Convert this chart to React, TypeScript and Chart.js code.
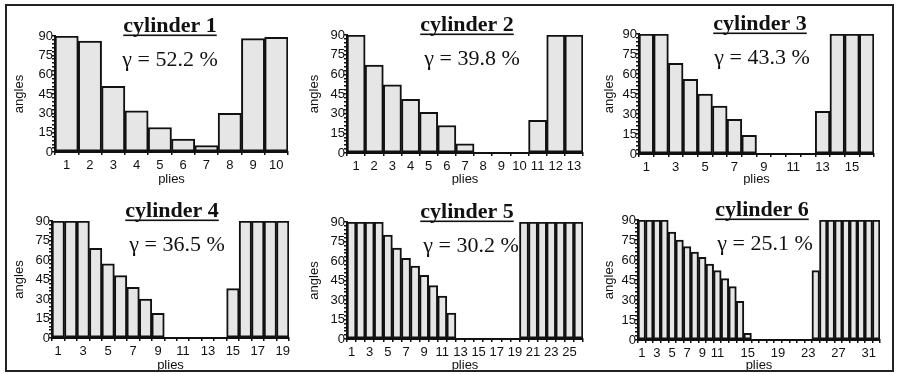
import React, { useEffect, useRef } from "react";
import { Chart, registerables } from "chart.js";

Chart.register(...registerables);

// ---------- data ----------
const cylinderTitles = ["cylinder 1", "cylinder 2", "cylinder 3", "cylinder 4", "cylinder 5", "cylinder 6"];
const gammaLabels = ["γ = 52.2 %", "γ = 39.8 %", "γ = 43.3 %", "γ = 36.5 %", "γ = 30.2 %", "γ = 25.1 %"];

const cyl1Plies = ["1", "2", "3", "4", "5", "6", "7", "8", "9", "10"];
const cyl1Angles = [90, 86, 51, 32, 19, 10, 5, 30, 88, 89];
const cyl1ShownTicks = ["1", "2", "3", "4", "5", "6", "7", "8", "9", "10"];

const cyl2Plies = ["1", "2", "3", "4", "5", "6", "7", "8", "9", "10", "11", "12", "13"];
const cyl2Angles = [90, 67, 52, 41, 31, 21, 7, 0, 0, 0, 25, 90, 90];
const cyl2ShownTicks = ["1", "2", "3", "4", "5", "6", "7", "8", "9", "10", "11", "12", "13"];

const cyl3Plies = ["1", "2", "3", "4", "5", "6", "7", "8", "9", "10", "11", "12", "13", "14", "15", "16"];
const cyl3Angles = [90, 90, 68, 56, 45, 36, 26, 14, 0, 0, 0, 0, 32, 90, 90, 90];
const cyl3ShownTicks = ["1", "3", "5", "7", "9", "11", "13", "15"];

const cyl4Plies = ["1", "2", "3", "4", "5", "6", "7", "8", "9", "10", "11", "12", "13", "14", "15", "16", "17", "18", "19"];
const cyl4Angles = [90, 90, 90, 69, 57, 48, 39, 30, 19, 0, 0, 0, 0, 0, 38, 90, 90, 90, 90];
const cyl4ShownTicks = ["1", "3", "5", "7", "9", "11", "13", "15", "17", "19"];

const cyl5Plies = ["1", "2", "3", "4", "5", "6", "7", "8", "9", "10", "11", "12", "13", "14", "15", "16", "17", "18", "19", "20", "21", "22", "23", "24", "25", "26"];
const cyl5Angles = [90, 90, 90, 90, 80, 70, 62, 56, 49, 41, 33, 20, 0, 0, 0, 0, 0, 0, 0, 90, 90, 90, 90, 90, 90, 90];
const cyl5ShownTicks = ["1", "3", "5", "7", "9", "11", "13", "15", "17", "19", "21", "23", "25"];

const cyl6Plies = ["1", "2", "3", "4", "5", "6", "7", "8", "9", "10", "11", "12", "13", "14", "15", "16", "17", "18", "19", "20", "21", "22", "23", "24", "25", "26", "27", "28", "29", "30", "31", "32"];
const cyl6Angles = [90, 90, 90, 90, 81, 75, 70, 66, 62, 57, 52, 46, 40, 29, 5, 0, 0, 0, 0, 0, 0, 0, 0, 52, 90, 90, 90, 90, 90, 90, 90, 90];
const cyl6ShownTicks = ["1", "3", "5", "7", "9", "11", "15", "19", "23", "27", "31"];

const yTickLabels = [0, 15, 30, 45, 60, 75, 90];
const yAxisTitle = "angles";
const xAxisTitle = "plies";

// ---------- layout (canvas box + plot box, in page px) ----------
const layouts = [
  { x: 0, y: 0, w: 295, h: 185, left: 55, right: 288, top: 36, bottom: 152, titleX: 170, gammaX: 170 },
  { x: 295, y: 0, w: 295, h: 185, left: 52, right: 288, top: 35, bottom: 153, titleX: 467, gammaX: 472 },
  { x: 590, y: 0, w: 304, h: 185, left: 49, right: 284, top: 34, bottom: 154, titleX: 760, gammaX: 762 },
  { x: 0, y: 185, w: 295, h: 189, left: 52, right: 289, top: 36, bottom: 153, titleX: 172, gammaX: 177 },
  { x: 295, y: 185, w: 295, h: 189, left: 52, right: 288, top: 37, bottom: 154, titleX: 467, gammaX: 471 },
  { x: 590, y: 185, w: 304, h: 189, left: 48, right: 290, top: 35, bottom: 155, titleX: 762, gammaX: 765 },
];

const panels = [
  { plies: cyl1Plies, angles: cyl1Angles, shown: cyl1ShownTicks },
  { plies: cyl2Plies, angles: cyl2Angles, shown: cyl2ShownTicks },
  { plies: cyl3Plies, angles: cyl3Angles, shown: cyl3ShownTicks },
  { plies: cyl4Plies, angles: cyl4Angles, shown: cyl4ShownTicks },
  { plies: cyl5Plies, angles: cyl5Angles, shown: cyl5ShownTicks },
  { plies: cyl6Plies, angles: cyl6Angles, shown: cyl6ShownTicks },
];

const INK = "#111111";
const BAR_FILL = "#e6e6e6";

const panelTextPlugin = {
  id: "panelText",
  afterDraw(chart: any, _args: any, opts: any) {
    const { ctx, chartArea } = chart;
    ctx.save();
    ctx.fillStyle = INK;
    ctx.textAlign = "center";
    ctx.textBaseline = "alphabetic";
    ctx.font = 'bold 22px "Liberation Serif"';
    const tx = opts.titleX;
    const ty = chartArea.top - 4;
    ctx.fillText(opts.title, tx, ty);
    const w = ctx.measureText(opts.title).width;
    ctx.fillRect(tx - w / 2, ty + 2.5, w, 1.6);
    ctx.font = '22px "Liberation Serif"';
    ctx.fillText(opts.gamma, opts.gammaX, chartArea.top + 30);
    ctx.restore();
  },
};

function Panel({ index }: { index: number }) {
  const ref = useRef<HTMLCanvasElement | null>(null);
  const lay = layouts[index];
  const p = panels[index];

  useEffect(() => {
    if (!ref.current) return;
    const yWidth = lay.left;
    const xHeight = lay.h - lay.bottom;
    const tickFont = { family: '"Liberation Sans"', size: 13 };
    const chart = new Chart(ref.current, {
      type: "bar",
      data: {
        labels: p.plies,
        datasets: [
          {
            data: p.angles,
            backgroundColor: BAR_FILL,
            borderColor: INK,
            borderWidth: 2,
            borderSkipped: false,
            barPercentage: 1,
            categoryPercentage: 1,
          },
        ],
      },
      options: {
        responsive: false,
        animation: false,
        devicePixelRatio: 1,
        layout: { padding: { left: 0, right: lay.w - lay.right, top: lay.top, bottom: 0 } },
        plugins: {
          legend: { display: false },
          tooltip: { enabled: false },
          panelText: {
            title: cylinderTitles[index],
            gamma: gammaLabels[index],
            titleX: lay.titleX - lay.x,
            gammaX: lay.gammaX - lay.x,
          },
        } as any,
        scales: {
          x: {
            type: "category",
            grid: { display: true, drawOnChartArea: false, drawTicks: true, tickLength: 3, color: INK, lineWidth: 1.5, offset: true },
            border: { display: true, color: INK, width: 2 },
            ticks: {
              autoSkip: false,
              maxRotation: 0,
              minRotation: 0,
              padding: 3,
              color: INK,
              font: tickFont,
              callback: function (this: any, value: any) {
                const lbl = this.getLabelForValue(value);
                return p.shown.includes(lbl) ? lbl : "";
              },
            },
            title: {
              display: true,
              text: xAxisTitle,
              color: INK,
              font: { family: '"Liberation Sans"', size: 13, lineHeight: 1 },
              padding: { top: 0, bottom: index < 3 ? -1 : 2 },
            },
            afterFit: (scale: any) => {
              scale.height = xHeight;
            },
          },
          y: {
            type: "linear",
            min: 0,
            max: 90,
            grid: { display: true, drawOnChartArea: false, drawTicks: true, tickLength: 3, color: INK, lineWidth: 1.5 },
            border: { display: true, color: INK, width: 2 },
            ticks: {
              stepSize: 3,
              autoSkip: false,
              padding: -1,
              color: INK,
              font: tickFont,
              callback: (v: any) => (yTickLabels.includes(Number(v)) ? String(v) : ""),
            },
            title: {
              display: true,
              text: yAxisTitle,
              color: INK,
              font: { family: '"Liberation Sans"', size: 13, lineHeight: 1 },
              padding: { top: 13, bottom: 0 },
            },
            afterFit: (scale: any) => {
              scale.width = yWidth;
            },
          },
        },
      },
      plugins: [panelTextPlugin as any],
    });
    return () => chart.destroy();
  }, [index]);

  return (
    <canvas
      ref={ref}
      width={lay.w}
      height={lay.h}
      style={{ position: "absolute", left: lay.x, top: lay.y, width: lay.w, height: lay.h }}
    />
  );
}

export default function App() {
  return (
    <div
      style={{
        position: "fixed",
        left: 0,
        top: 0,
        width: 898,
        height: 374,
        background: "#ffffff",
        overflow: "hidden",
      }}
    >
      {layouts.map((_, i) => (
        <Panel key={i} index={i} />
      ))}
      <div
        style={{
          position: "absolute",
          left: 5,
          top: 4,
          width: 889,
          height: 368,
          boxSizing: "border-box",
          border: "2px solid #222",
          pointerEvents: "none",
        }}
      />
    </div>
  );
}
